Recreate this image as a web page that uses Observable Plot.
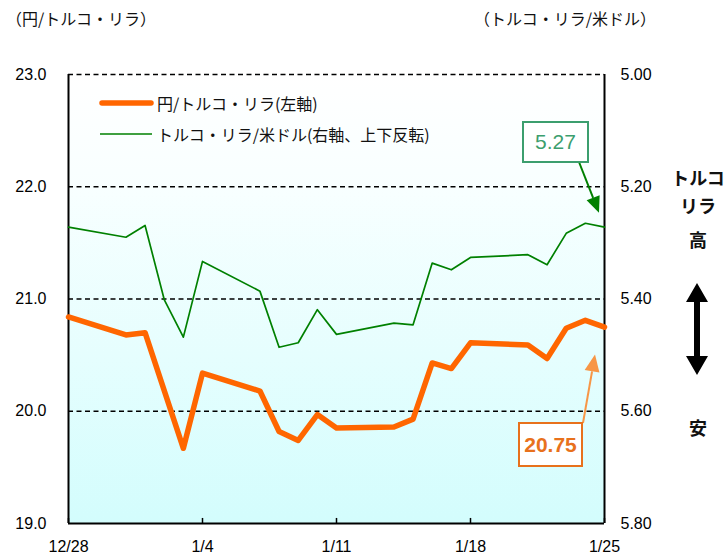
<!DOCTYPE html>
<html><head><meta charset="utf-8">
<script src="https://cdn.jsdelivr.net/npm/d3@7"></script>
<script src="https://cdn.jsdelivr.net/npm/@observablehq/plot@0.6"></script>
<style>
body{margin:0;background:#fff;}
#wrap{position:relative;width:728px;height:555px;overflow:hidden;}
.ov{position:absolute;white-space:nowrap;font-family:'Noto Sans CJK JP',sans-serif;color:#111;}
</style></head>
<body><div id="wrap"></div>
<script>
// ---- data ----
const jpyDates = ["2020-12-28","2020-12-31","2021-01-01","2021-01-03","2021-01-04","2021-01-07","2021-01-08","2021-01-09","2021-01-10","2021-01-11","2021-01-14","2021-01-15","2021-01-16","2021-01-17","2021-01-18","2021-01-21","2021-01-22","2021-01-23","2021-01-24","2021-01-25"];
const jpyTry = [20.84,20.68,20.70,19.67,20.34,20.18,19.82,19.74,19.97,19.85,19.86,19.93,20.43,20.38,20.61,20.59,20.47,20.74,20.81,20.75];
const tryDates = ["2020-12-28","2020-12-31","2021-01-01","2021-01-02","2021-01-03","2021-01-04","2021-01-07","2021-01-08","2021-01-09","2021-01-10","2021-01-11","2021-01-14","2021-01-15","2021-01-16","2021-01-17","2021-01-18","2021-01-21","2021-01-22","2021-01-23","2021-01-24","2021-01-25"];
const usdTry = [5.272,5.290,5.269,5.401,5.468,5.333,5.386,5.486,5.478,5.419,5.463,5.443,5.446,5.336,5.348,5.326,5.321,5.339,5.283,5.265,5.272];
const leftTicks = [19,20,21,22,23];
const rightTicks = [5.80,5.60,5.40,5.20,5.00];
const xTicks = ["2020-12-28","2021-01-04","2021-01-11","2021-01-18","2021-01-25"];
const xTickLabels = ["12/28","1/4","1/11","1/18","1/25"];
const gridValues = [20,21,22,23];
const labelJpy = "円/トルコ・リラ(左軸)";
const labelTry = "トルコ・リラ/米ドル(右軸、上下反転)";
const lastJpyLabel = "20.75";
const lastTryLabel = "5.27";

// right axis (5.00 top .. 5.80 bottom) mapped onto left scale (23 .. 19)
const toLeft = v => 23 - (v - 5.0) * 5;
const parse = s => new Date(s + "T00:00:00Z");

const jpyData = jpyDates.map((d,i)=>({date:parse(d), v:jpyTry[i]}));
const tryData = tryDates.map((d,i)=>({date:parse(d), v:toLeft(usdTry[i])}));
const xTickDates = xTicks.map(parse);
const d0 = xTickDates[0], dN = xTickDates[xTickDates.length-1];

const NS = "http://www.w3.org/2000/svg";
function el(tag, attrs){const e=document.createElementNS(NS,tag);for(const k in attrs)e.setAttribute(k,attrs[k]);return e;}

const defsMark = () => {
  const g = el("g",{});
  const defs = el("defs",{});
  const lg = el("linearGradient",{id:"bg",x1:"0",y1:"0",x2:"0",y2:"1"});
  lg.appendChild(el("stop",{offset:"0","stop-color":"#ffffff"}));
  lg.appendChild(el("stop",{offset:"0.25","stop-color":"#f8ffff"}));
  lg.appendChild(el("stop",{offset:"1","stop-color":"#d3fdfd"}));
  defs.appendChild(lg); g.appendChild(defs); return g;
};

// annotation arrows: tail at label box, head near last data point
function arrowMark(tail, headDx, headDy, datum, color, hl, hw){
  return (index, scales) => {
    const g = el("g",{});
    const hx = scales.x(datum.date) + headDx, hy = scales.y(datum.v) + headDy;
    const [tx,ty] = tail;
    const ang = Math.atan2(hy-ty, hx-tx);
    const bx = hx - hl*Math.cos(ang), by = hy - hl*Math.sin(ang);
    const px = -Math.sin(ang)*hw/2, py = Math.cos(ang)*hw/2;
    g.appendChild(el("line",{x1:tx,y1:ty,x2:bx,y2:by,stroke:color,"stroke-width":2}));
    g.appendChild(el("path",{d:`M${hx},${hy}L${bx+px},${by+py}L${bx-px},${by-py}Z`,fill:color}));
    return g;
  };
}

const lastTry = tryData[tryData.length-1];
const lastJpy = jpyData[jpyData.length-1];

const chart = Plot.plot({
  width:728, height:555,
  marginLeft:68, marginRight:124, marginTop:74, marginBottom:32,
  x:{type:"utc", domain:[d0,dN], label:null},
  y:{domain:[19,23], label:null},
  style:{fontFamily:"'Liberation Sans Narrow','Liberation Sans',Arial,sans-serif", fontSize:"16px", color:"#000", background:"transparent"},
  marks:[
    defsMark,
    Plot.frame({fill:"url(#bg)", stroke:null}),
    Plot.ruleY(gridValues,{stroke:"#000", strokeWidth:1.6, strokeDasharray:"5,3.5"}),
    Plot.ruleX([d0,dN],{stroke:"#000", strokeWidth:2}),
    Plot.ruleY([19],{stroke:"#000", strokeWidth:2.2}),
    Plot.ruleX(xTickDates,{y1:19, y2:19.045, stroke:"#000", strokeWidth:1.5}),
    Plot.line(tryData,{x:"date", y:"v", stroke:"#008000", strokeWidth:1.7}),
    Plot.line(jpyData,{x:"date", y:"v", stroke:"#ff6600", strokeWidth:5.5, strokeLinejoin:"round", strokeLinecap:"round"}),
    Plot.axisY(leftTicks,{anchor:"left", tickSize:0, tickPadding:22, tickFormat:d3.format(".1f"), fontSize:16, fill:"#000"}),
    Plot.axisY(leftTicks,{anchor:"right", tickSize:0, tickPadding:16, tickFormat:d=>rightTicks[leftTicks.indexOf(d)].toFixed(2), fontSize:16, fill:"#000"}),
    Plot.axisX(xTickDates,{anchor:"bottom", tickSize:0, tickPadding:17, tickFormat:d=>xTickLabels[xTickDates.findIndex(t=>+t===+d)], fontSize:16, fill:"#000"}),
    arrowMark([579,162], -5, -14, lastTry, "#008000", 16, 14),
    arrowMark([583,423], -9, 28, lastJpy, "#f79646", 17, 15)
  ]
});
const wrap = document.getElementById("wrap");
chart.style.position="absolute"; chart.style.left="0"; chart.style.top="0";
wrap.appendChild(chart);

function ov(html, css){const d=document.createElement("div");d.className="ov";d.innerHTML=html;Object.assign(d.style,css);wrap.appendChild(d);return d;}
ov("（円/トルコ・リラ）",{left:"6px",top:"6px",fontSize:"16px",lineHeight:"24px"});
ov("（トルコ・リラ/米ドル）",{left:"474px",top:"6px",fontSize:"16px",lineHeight:"24px"});

// legend
const leg = document.createElementNS(NS,"svg");
leg.setAttribute("width","728");leg.setAttribute("height","555");
Object.assign(leg.style,{position:"absolute",left:"0",top:"0"});
leg.appendChild(el("line",{x1:102,y1:103,x2:151,y2:103,stroke:"#ff6600","stroke-width":5.5,"stroke-linecap":"round"}));
leg.appendChild(el("line",{x1:100,y1:134,x2:152,y2:134,stroke:"#008000","stroke-width":1.7}));
// double arrow (トルコリラ 高 ↔ 安)
leg.appendChild(el("path",{d:"M697,283 L708,302 L700,302 L700,356 L708,356 L697,375 L686,356 L694,356 L694,302 L686,302 Z",fill:"#000"}));
wrap.appendChild(leg);
ov(labelJpy,{left:"157px",top:"91px",fontSize:"16px"});
ov(labelTry,{left:"157px",top:"122px",fontSize:"16px"});

// side labels
const side = {position:"absolute",width:"70px",left:"663px",textAlign:"center",fontSize:"18px",fontWeight:"bold",lineHeight:"1"};
ov("トルコ",{...side,top:"168px"});
ov("リラ",{...side,top:"196px"});
ov("高",{...side,top:"230px"});
ov("安",{...side,top:"418px"});

// value boxes
ov(lastTryLabel,{left:"522px",top:"121px",width:"63px",height:"38px",border:"2px solid #3c9e6e",color:"#3c9e6e",fontFamily:"'Liberation Sans',Arial,sans-serif",fontSize:"21px",textAlign:"center",lineHeight:"38px",background:"#fff"});
ov(lastJpyLabel,{left:"518px",top:"422px",width:"61px",height:"41px",border:"2px solid #e8711c",color:"#e8711c",fontFamily:"'Liberation Sans',Arial,sans-serif",fontSize:"21px",fontWeight:"bold",textAlign:"center",lineHeight:"41px",background:"#fff"});
</script></body></html>
